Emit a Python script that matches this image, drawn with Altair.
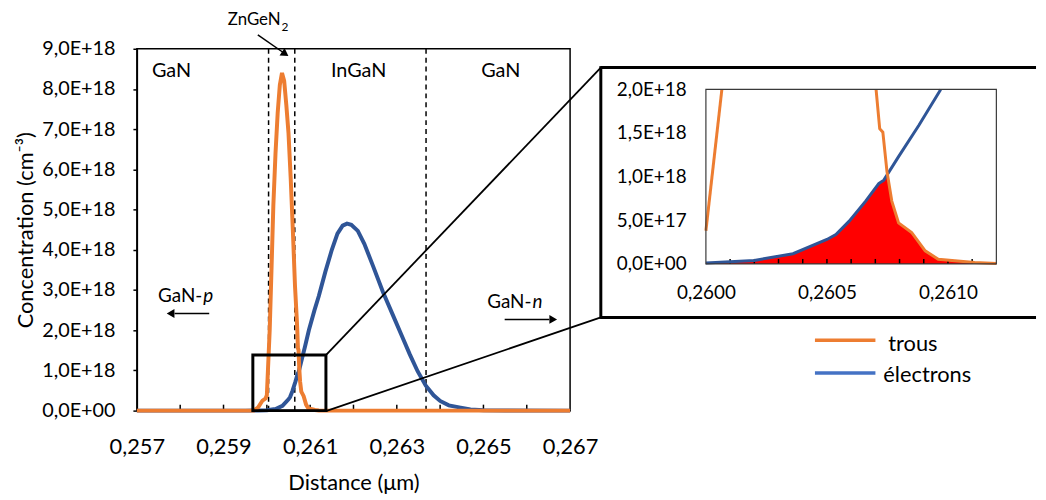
import altair as alt
import numpy as np
import pandas as pd

E18 = 1e18

# ---------------- data ----------------
series_names = ["trous", "électrons"]

# holes (trous), concentration in 1e18 cm^-3
hole_x = [0.2570, 0.2595, 0.25970, 0.25980, 0.25990, 0.25997, 0.26000, 0.260066,
          0.26011, 0.26015, 0.26020, 0.26025, 0.26030, 0.26035, 0.26040, 0.26045,
          0.26050, 0.26055, 0.26060, 0.26065, 0.26069, 0.260703, 0.260718, 0.260731,
          0.260748, 0.260768, 0.260796, 0.26085, 0.260906, 0.26096, 0.26104, 0.26111,
          0.2612, 0.2615, 0.2670]
hole_y = [0, 0, 0, 0.08, 0.25, 0.30, 0.38, 2.0,
          3.6, 5.1, 6.4, 7.4, 8.1, 8.4, 8.2, 7.6,
          6.9, 5.8, 4.5, 3.1, 2.3, 2.0, 1.55, 1.51,
          1.06, 0.72, 0.47, 0.36, 0.15, 0.053, 0.034, 0.015,
          0.005, 0, 0]

# electrons, concentration in 1e18 cm^-3
elec_x = [0.2570, 0.2595, 0.25980, 0.26000, 0.26020, 0.26036, 0.26050, 0.260537,
          0.260592, 0.26066, 0.260714, 0.260735, 0.260796, 0.26088, 0.26097, 0.26110,
          0.26120, 0.26135, 0.26150, 0.26163, 0.26175, 0.26185, 0.26195, 0.26210,
          0.26225, 0.26245, 0.26268, 0.26290, 0.26312, 0.26330, 0.26348, 0.26367,
          0.26385, 0.26400, 0.26420, 0.26444, 0.26470, 0.26500, 0.26550, 0.2670]
elec_y = [0, 0, 0.002, 0.01, 0.04, 0.117, 0.28, 0.337,
          0.49, 0.72, 0.92, 0.96, 1.23, 1.59, 2.0, 2.5,
          2.85, 3.45, 4.0, 4.4, 4.6, 4.65, 4.62, 4.47,
          4.15, 3.6, 2.95, 2.4, 1.85, 1.4, 0.98, 0.62,
          0.38, 0.24, 0.13, 0.08, 0.03, 0.01, 0.003, 0]

interfaces_x = [0.26004, 0.260645, 0.263675]
region_labels = ["GaN", "InGaN", "GaN"]
region_x = [0.2578, 0.26212, 0.26540]
region_y = [8.45, 8.45, 8.45]

main_x_labels = [0.257, 0.259, 0.261, 0.263, 0.265, 0.267]
main_x_minor = [0.258, 0.259, 0.260, 0.261, 0.262, 0.263, 0.264, 0.265, 0.266]
main_y_values = [0, 1, 2, 3, 4, 5, 6, 7, 8, 9]
inset_x_labels = [0.2600, 0.2605, 0.2610]
inset_x_minor = [0.2601, 0.2602, 0.2603, 0.2604, 0.2605, 0.2606, 0.2607, 0.2608,
                 0.2609, 0.2610, 0.2611]
inset_y_values = [0, 0.5, 1.0, 1.5, 2.0]

zoom_box_x = [0.259677, 0.261364]
zoom_box_y = [0, 1.381]

# ---------------- layout constants ----------------
W, H = 437, 365
XD, YD = [0.257, 0.267], [0, 9 * E18]
IXD, IYD = [0.2600, 0.2612], [0, 2 * E18]
IXR, IYR = [574, 867], [217, 41]

ORANGE = "#ED7D31"
BLUE = "#2F5597"
BLUE_LEG = "#4472C4"
FONT = "Lato"

ylab = "datum.value == 0 ? '0,0E+00' : replace(replace(format(datum.value, '.1e'), '.', ','), 'e', 'E')"


def mxs():
    return alt.Scale(domain=XD, nice=False, zero=False)


def mys():
    return alt.Scale(domain=YD, nice=False, zero=False)


def ixs():
    return alt.Scale(domain=IXD, range=IXR, nice=False, zero=False)


def iys():
    return alt.Scale(domain=IYD, range=IYR, nice=False, zero=False)


one = pd.DataFrame({"k": [0]})

df_hole = pd.DataFrame({"x": hole_x, "y": np.array(hole_y) * E18, "s": series_names[0]})
df_elec = pd.DataFrame({"x": elec_x, "y": np.array(elec_y) * E18, "s": series_names[1]})


def clip_poly(xs, ys, xmin, xmax, ymax):
    pts = []
    for i in range(len(xs)):
        if i > 0:
            xa, ya, xb, yb = xs[i - 1], ys[i - 1], xs[i], ys[i]
            ts = []
            for xc in (xmin, xmax):
                if (xa - xc) * (xb - xc) < 0:
                    ts.append((xc - xa) / (xb - xa))
            if (ya - ymax) * (yb - ymax) < 0:
                ts.append((ymax - ya) / (yb - ya))
            for t in sorted(ts):
                pts.append((xa + t * (xb - xa), ya + t * (yb - ya)))
        pts.append((xs[i], ys[i]))
    rows, seg, open_seg = [], 0, False
    for (xa, ya), (xb, yb) in zip(pts[:-1], pts[1:]):
        mx_, my_ = (xa + xb) / 2, (ya + yb) / 2
        inside = (xmin - 1e-12 <= mx_ <= xmax + 1e-12) and (my_ <= ymax + 1e-9)
        if inside:
            if not open_seg:
                seg += 1
                rows.append({"x": xa, "y": ya * E18, "seg": seg})
                open_seg = True
            rows.append({"x": xb, "y": yb * E18, "seg": seg})
        else:
            open_seg = False
    return pd.DataFrame(rows)


ins_hole = clip_poly(hole_x, hole_y, IXD[0], IXD[1], 2.0)
ins_elec = clip_poly(elec_x, elec_y, IXD[0], IXD[1], 2.0)

# red overlap area = min(holes, electrons) inside the inset window
gx = sorted(set([v for v in hole_x + elec_x if IXD[0] <= v <= IXD[1]] + IXD))
extra = []
for a, b in zip(gx[:-1], gx[1:]):
    da = np.interp(a, hole_x, hole_y) - np.interp(a, elec_x, elec_y)
    db = np.interp(b, hole_x, hole_y) - np.interp(b, elec_x, elec_y)
    if da * db < 0:
        extra.append(a + (b - a) * da / (da - db))
gx = sorted(gx + extra)
df_fill = pd.DataFrame({
    "x": gx,
    "y": [min(np.interp(v, hole_x, hole_y), np.interp(v, elec_x, elec_y)) * E18 for v in gx],
})

# ---------------- main panel ----------------
main_axis_x = alt.Axis(values=main_x_labels, labelExpr="replace(format(datum.value, '.3f'), '.', ',')",
                       title="Distance (μm)", ticks=False, labelPadding=26, titlePadding=16,
                       labelFontSize=22, titleFontSize=22, grid=False, domainColor="black",
                       domainWidth=1.5, orient="bottom", labelFlush=False, labelOverlap=False)
main_axis_y = alt.Axis(values=[v * E18 for v in main_y_values], labelExpr=ylab,
                       title="Concentration (cm⁻³)", tickSize=4, tickColor="black", tickWidth=1.5,
                       labelPadding=18, titlePadding=4, labelFontSize=20, titleFontSize=22,
                       grid=False, domainColor="black", domainWidth=1.5, orient="left",
                       labelFlush=False, labelOverlap=False)

elec_main = alt.Chart(df_elec).mark_line(color=BLUE, strokeWidth=4).encode(
    x=alt.X("x:Q", scale=mxs(), axis=main_axis_x),
    y=alt.Y("y:Q", scale=mys(), axis=main_axis_y),
)
hole_main = alt.Chart(df_hole).mark_line(color=ORANGE, strokeWidth=4).encode(
    x=alt.X("x:Q", scale=mxs(), axis=None),
    y=alt.Y("y:Q", scale=mys(), axis=None),
)

minor_main = alt.Chart(pd.DataFrame({"x": main_x_minor})).mark_rule(color="black", strokeWidth=1.5).encode(
    x=alt.X("x:Q", scale=mxs(), axis=None), y=alt.value(H), y2=alt.value(H - 6))

dashes = alt.Chart(pd.DataFrame({"x": interfaces_x})).mark_rule(
    color="black", strokeWidth=1.5, strokeDash=[5, 4]).encode(
    x=alt.X("x:Q", scale=mxs(), axis=None), y=alt.value(0), y2=alt.value(H))

regions = alt.Chart(pd.DataFrame({"x": region_x, "y": np.array(region_y) * E18, "t": region_labels})).mark_text(
    font=FONT, fontSize=20, color="black").encode(
    x=alt.X("x:Q", scale=mxs(), axis=None), y=alt.Y("y:Q", scale=mys(), axis=None), text="t:N")


def txt(x, y, s, size=19, align="center", style="normal", baseline="middle", dx=0):
    return alt.Chart(one).mark_text(font=FONT, fontSize=size, align=align, fontStyle=style,
                                    baseline=baseline, color="black", dx=dx).encode(
        x=alt.X("xx:Q", scale=mxs(), axis=None), y=alt.Y("yy:Q", scale=mys(), axis=None),
        text=alt.value(s)).transform_calculate(xx=str(x), yy=str(y))


def seg(x1, y1, x2, y2, width=1.5):
    return alt.Chart(one).mark_rule(color="black", strokeWidth=width).encode(
        x=alt.X("x1:Q", scale=mxs(), axis=None), y=alt.Y("y1:Q", scale=mys(), axis=None),
        x2="x2:Q", y2="y2:Q").transform_calculate(x1=str(x1), y1=str(y1), x2=str(x2), y2=str(y2))


def head(x, y, shape, angle=0, size=90):
    return alt.Chart(one).mark_point(shape=shape, angle=angle, filled=True, size=size,
                                     color="black", opacity=1).encode(
        x=alt.X("xx:Q", scale=mxs(), axis=None), y=alt.Y("yy:Q", scale=mys(), axis=None)
    ).transform_calculate(xx=str(x), yy=str(y))


annots = [
    txt(0.2603181, 9.727e18, "ZnGeN", size=17, align="right"),
    txt(0.2603181, 9.55e18, "2", size=12, align="left", dx=1),
    seg(0.259792, 9.345e18, 0.260387, 8.901e18, 1.5),
    head(0.260400, 8.89e18, "triangle", angle=124.6, size=80),
    txt(0.258510, 2.86e18, "GaN-", align="right"),
    txt(0.258510, 2.86e18, "p", align="left", style="italic", dx=1),
    seg(0.258670, 2.416e18, 0.257870, 2.416e18, 1.5),
    head(0.257778, 2.416e18, "triangle-left", size=80),
    txt(0.266108, 2.712e18, "GaN-", align="right"),
    txt(0.266108, 2.712e18, "n", align="left", style="italic", dx=1),
    seg(0.265490, 2.268e18, 0.266520, 2.268e18, 1.5),
    head(0.266611, 2.268e18, "triangle-right", size=80),
]

zoom_box = alt.Chart(pd.DataFrame({"x": [zoom_box_x[0]], "x2": [zoom_box_x[1]],
                                   "y": [zoom_box_y[0] * E18], "y2": [zoom_box_y[1] * E18]})).mark_rect(
    fillOpacity=0, stroke="black", strokeWidth=3).encode(
    x=alt.X("x:Q", scale=mxs(), axis=None), x2="x2:Q",
    y=alt.Y("y:Q", scale=mys(), axis=None), y2="y2:Q")


# frame around the inset and connector lines (decoration, pixel positions)
def prule(x1, y1, x2, y2, width, color="black"):
    return alt.Chart(one).mark_rule(color=color, strokeWidth=width).encode(
        x=alt.value(x1), y=alt.value(y1), x2=alt.value(x2), y2=alt.value(y2))


frame = [
    prule(468, 19, 907, 19, 3),
    prule(468, 271, 907, 271, 3),
    prule(468, 17.5, 468, 272.5, 3),
    prule(190.7, 309, 468, 19, 1.8),
    prule(190.7, 365.5, 468, 271, 1.8),
]

legend = [
    prule(684, 294, 745, 294, 3.5, ORANGE),
    prule(684, 327, 745, 327, 3.5, BLUE_LEG),
    alt.Chart(one).mark_text(font=FONT, fontSize=22, align="left", baseline="middle", color="black").encode(
        x=alt.value(758), y=alt.value(298), text=alt.value(series_names[0])),
    alt.Chart(one).mark_text(font=FONT, fontSize=22, align="left", baseline="middle", color="black").encode(
        x=alt.value(753), y=alt.value(329), text=alt.value(series_names[1])),
]

# ---------------- inset ----------------
inset_axis_x = alt.Axis(values=inset_x_labels, labelExpr="replace(format(datum.value, '.4f'), '.', ',')",
                        title=None, ticks=False, domain=False, labelPadding=20, labelFontSize=19,
                        grid=False, orient="bottom", offset=-(H - IYR[0]), labelFlush=False,
                        labelOverlap=False)
inset_axis_y = alt.Axis(values=[v * E18 for v in inset_y_values], labelExpr=ylab, title=None,
                        ticks=False, domain=False, labelPadding=20, labelFontSize=19, grid=False,
                        orient="left", offset=-IXR[0], labelFlush=False, labelOverlap=False)

fill = alt.Chart(df_fill).mark_area(color="#FF0000", opacity=1).encode(
    x=alt.X("x:Q", scale=ixs(), axis=inset_axis_x),
    y=alt.Y("y:Q", scale=iys(), axis=inset_axis_y),
)
inset_border = alt.Chart(pd.DataFrame({"x": [IXD[0]], "x2": [IXD[1]], "y": [IYD[0]], "y2": [IYD[1]]})).mark_rect(
    fillOpacity=0, stroke="#3a3a3a", strokeWidth=1.2).encode(
    x=alt.X("x:Q", scale=ixs(), axis=None), x2="x2:Q",
    y=alt.Y("y:Q", scale=iys(), axis=None), y2="y2:Q")
minor_inset = alt.Chart(pd.DataFrame({"x": inset_x_minor})).mark_rule(color="black", strokeWidth=1.5).encode(
    x=alt.X("x:Q", scale=ixs(), axis=None), y=alt.value(IYR[0]), y2=alt.value(IYR[0] - 5))
elec_ins = alt.Chart(ins_elec).mark_line(color=BLUE, strokeWidth=3).encode(
    x=alt.X("x:Q", scale=ixs(), axis=None), y=alt.Y("y:Q", scale=iys(), axis=None), detail="seg:N")
hole_ins = alt.Chart(ins_hole).mark_line(color=ORANGE, strokeWidth=3).encode(
    x=alt.X("x:Q", scale=ixs(), axis=None), y=alt.Y("y:Q", scale=iys(), axis=None), detail="seg:N")

layers = [minor_main, dashes, elec_main, hole_main, zoom_box, regions, *annots, *frame, *legend,
          fill, minor_inset, elec_ins, hole_ins, inset_border]

chart = alt.layer(*layers).resolve_scale(x="independent", y="independent").properties(
    width=W, height=H, padding={"left": 6, "top": 0, "right": 0, "bottom": 0},
    background="white"
).configure_view(stroke="black", strokeWidth=1.5).configure_axis(
    labelFont=FONT, titleFont=FONT, labelColor="black", titleColor="black", titleFontWeight="normal"
)

chart.save("out.html", embed_options={"renderer": "svg", "actions": False})
